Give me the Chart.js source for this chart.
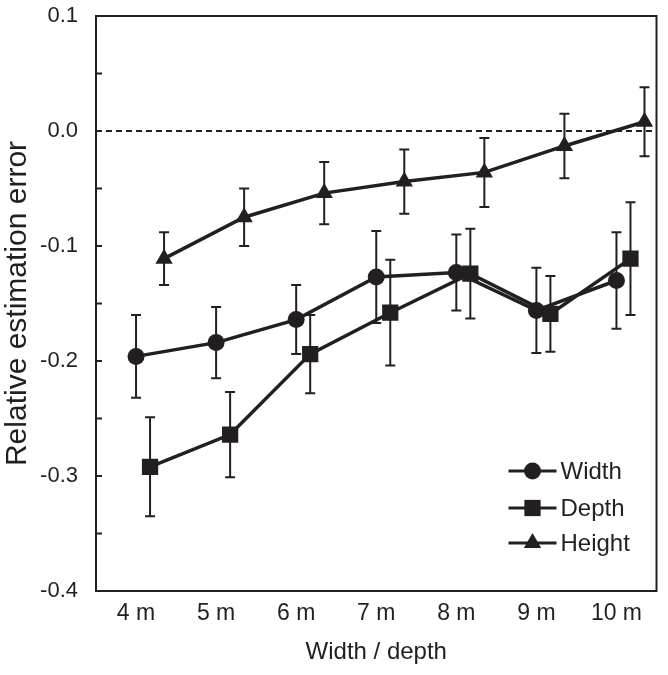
<!DOCTYPE html>
<html>
<head>
<meta charset="utf-8">
<script src="https://cdn.jsdelivr.net/npm/chart.js@4.4.0/dist/chart.umd.min.js"></script>
<style>
  body { margin: 0; background: #fff; }
  canvas { display: block; }
</style>
</head>
<body>
<canvas id="errorChart" width="668" height="675"></canvas>
<script>
// values
var categories = ['4 m', '5 m', '6 m', '7 m', '8 m', '9 m', '10 m'];
var widthMean = [-0.196, -0.184, -0.164, -0.127, -0.123, -0.156, -0.130];
var widthErr = [0.036, 0.031, 0.030, 0.040, 0.033, 0.037, 0.042];
var depthMean = [-0.292, -0.264, -0.194, -0.158, -0.124, -0.159, -0.111];
var depthErr = [0.043, 0.037, 0.034, 0.046, 0.039, 0.033, 0.049];
var heightMean = [-0.111, -0.075, -0.054, -0.044, -0.036, -0.013, 0.008];
var heightErr = [0.023, 0.025, 0.027, 0.028, 0.030, 0.028, 0.030];
var yTicks = [-0.4, -0.3, -0.2, -0.1, 0.0, 0.1];

var ink = '#231f20';
var font = "'Liberation Sans', Arial, sans-serif";

function toPoints(values, shift) {
    return values.map(function(v, i) { return { x: i + shift, y: v }; });
}

// error bars, zero line and frame go under the series
var backdrop = {
    id: 'backdrop',
    beforeDatasetsDraw: function(chart) {
        var ctx = chart.ctx, xs = chart.scales.x, ys = chart.scales.y;
        var a = chart.chartArea;
        ctx.save();
        ctx.strokeStyle = ink;

        // dashed zero line
        ctx.lineWidth = 2;
        ctx.setLineDash([6, 4]);
        var y0 = ys.getPixelForValue(0);
        ctx.beginPath();
        ctx.moveTo(a.left, y0);
        ctx.lineTo(a.right, y0);
        ctx.stroke();
        ctx.setLineDash([]);

        // inward ticks on the y axis
        ys.ticks.forEach(function(t) {
            var y = ys.getPixelForValue(t.value);
            ctx.beginPath();
            ctx.moveTo(a.left, y);
            ctx.lineTo(a.left + 6, y);
            ctx.stroke();
        });

        // frame
        ctx.lineWidth = 2;
        ctx.strokeRect(a.left, a.top, a.right - a.left, a.bottom - a.top);

        // error bars
        chart.data.datasets.forEach(function(ds) {
            ds.data.forEach(function(p, i) {
                var x = xs.getPixelForValue(p.x);
                var top = ys.getPixelForValue(p.y + ds.err[i]);
                var bot = ys.getPixelForValue(p.y - ds.err[i]);
                ctx.beginPath();
                ctx.moveTo(x, top); ctx.lineTo(x, bot);
                ctx.moveTo(x - 5, top); ctx.lineTo(x + 5, top);
                ctx.moveTo(x - 5, bot); ctx.lineTo(x + 5, bot);
                ctx.stroke();
            });
        });
        ctx.restore();
    }
};

function drawMarker(ctx, style, x, y, r) {
    ctx.beginPath();
    if (style === 'circle') {
        ctx.arc(x, y, r, 0, Math.PI * 2);
    } else if (style === 'rect') {
        var s = r * Math.SQRT1_2;
        ctx.rect(x - s, y - s, 2 * s, 2 * s);
    } else {
        ctx.moveTo(x, y - r);
        ctx.lineTo(x + r * 0.866, y + r * 0.5);
        ctx.lineTo(x - r * 0.866, y + r * 0.5);
        ctx.closePath();
    }
    ctx.fill();
}

// legend inside the plot, bottom right
var insideLegend = {
    id: 'insideLegend',
    afterDraw: function(chart) {
        var ctx = chart.ctx, a = chart.chartArea;
        var x0 = a.right - 148, rows = [471, 508, 543];
        ctx.save();
        ctx.strokeStyle = ink;
        ctx.fillStyle = ink;
        ctx.lineWidth = 3;
        ctx.font = '24px ' + font;
        ctx.textBaseline = 'middle';
        chart.data.datasets.forEach(function(ds, i) {
            var y = rows[i];
            ctx.beginPath();
            ctx.moveTo(x0, y);
            ctx.lineTo(x0 + 48, y);
            ctx.stroke();
            drawMarker(ctx, ds.pointStyle, x0 + 24, y, ds.pointRadius);
            ctx.fillText(ds.label, x0 + 52, y + 1);
        });
        ctx.restore();
    }
};

var ctx = document.getElementById('errorChart');
new Chart(ctx, {
    type: 'line',
    data: {
        datasets: [
            {
                label: 'Width', data: toPoints(widthMean, 0), err: widthErr,
                pointStyle: 'circle', pointRadius: 8.5, order: 3
            },
            {
                label: 'Depth', data: toPoints(depthMean, 0.175), err: depthErr,
                pointStyle: 'rect', pointRadius: 11.5, order: 2
            },
            {
                label: 'Height', data: toPoints(heightMean, 0.35), err: heightErr,
                pointStyle: 'triangle', pointRadius: 10, order: 1
            }
        ].map(function(ds) {
            ds.borderColor = ink;
            ds.backgroundColor = ink;
            ds.borderWidth = 3.5;
            ds.pointBorderWidth = 0;
            ds.pointBackgroundColor = ink;
            ds.tension = 0;
            return ds;
        })
    },
    options: {
        responsive: false,
        animation: false,
        layout: { padding: { top: 16, right: 0, left: 0, bottom: 0 } },
        plugins: {
            legend: { display: false },
            tooltip: { enabled: false }
        },
        scales: {
            x: {
                type: 'linear',
                min: -0.5,
                max: categories.length - 0.5,
                afterBuildTicks: function(scale) {
                    scale.ticks = categories.map(function(c, i) { return { value: i }; });
                },
                afterFit: function(scale) {
                    scale.height = 84;
                    scale.paddingLeft = 0;
                    scale.paddingRight = 0;
                },
                grid: { display: false, drawTicks: false },
                border: { display: false },
                ticks: {
                    padding: 9,
                    color: ink,
                    font: { family: font, size: 23 },
                    maxRotation: 0,
                    callback: function(v) { return categories[v]; }
                },
                title: {
                    display: true,
                    text: 'Width / depth',
                    color: ink,
                    font: { family: font, size: 24 },
                    padding: { top: 2, bottom: 8 }
                }
            },
            y: {
                min: -0.4,
                max: 0.1,
                afterFit: function(scale) {
                    scale.width = 96;
                    scale.paddingTop = 0;
                    scale.paddingBottom = 0;
                },
                grid: { display: false, drawTicks: false },
                border: { display: false },
                ticks: {
                    stepSize: 0.05,
                    padding: 18,
                    color: ink,
                    font: { family: font, size: 22 },
                    callback: function(v) {
                        var hit = yTicks.find(function(t) { return Math.abs(t - v) < 1e-6; });
                        return hit === undefined ? '' : hit.toFixed(1);
                    }
                },
                title: {
                    display: true,
                    text: 'Relative estimation error',
                    color: ink,
                    font: { family: font, size: 30 },
                    padding: { top: 0, bottom: 0 }
                }
            }
        }
    },
    plugins: [backdrop, insideLegend]
});
</script>
</body>
</html>
